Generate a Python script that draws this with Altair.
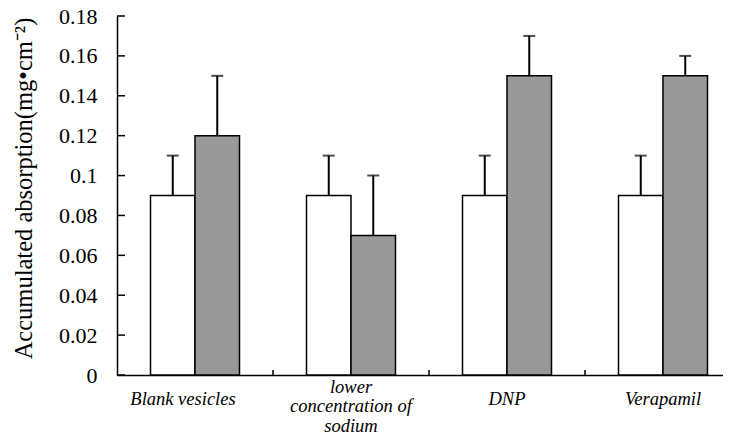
import altair as alt
import pandas as pd

categories = ["Blank vesicles", "lower concentration of sodium", "DNP", "Verapamil"]
series = ["Control", "Treatment"]
control_values = [0.09, 0.09, 0.09, 0.09]
control_errors = [0.02, 0.02, 0.02, 0.02]
treated_values = [0.12, 0.07, 0.15, 0.15]
treated_errors = [0.03, 0.03, 0.02, 0.01]
y_ticks = [0, 0.02, 0.04, 0.06, 0.08, 0.1, 0.12, 0.14, 0.16, 0.18]

rows = []
for i, c in enumerate(categories):
    rows.append({"cat": c, "series": series[0], "value": control_values[i],
                 "top": control_values[i] + control_errors[i]})
    rows.append({"cat": c, "series": series[1], "value": treated_values[i],
                 "top": treated_values[i] + treated_errors[i]})
df = pd.DataFrame(rows)
tick_df = pd.DataFrame({"tick": y_ticks})
bound_df = pd.DataFrame({"cat": categories[1:]})

FONT = "Liberation Serif"
H = 359
MULTI = "datum.value == 'lower concentration of sodium'"

xscale = alt.Scale(domain=categories, range=[0, 624], paddingInner=0, paddingOuter=0)
xaxis = alt.Axis(
    title=None, ticks=False, domainColor="black", domainWidth=1.5,
    labelFont=FONT, labelFontSize=18.5, labelFontStyle="italic", labelColor="black",
    labelAngle=0, labelBaseline="middle", labelLineHeight=19.5,
    labelPadding={"condition": {"test": MULTI, "value": 11}, "value": 23},
    labelOffset={"condition": {"test": "datum.value == 'Blank vesicles'", "value": -12}, "value": 0},
    labelLimit=0, labelOverlap=False,
    labelExpr=MULTI + " ? ['lower', 'concentration of', 'sodium'] : datum.value",
)
yscale = alt.Scale(domain=[0, 0.18], nice=False, zero=True)
yaxis = alt.Axis(
    title="Accumulated absorption(mg•cm⁻²)", values=y_ticks, format=".2~f",
    ticks=False, grid=False, domainColor="black", domainWidth=1.5,
    labelFont=FONT, labelFontSize=22, labelColor="black", labelPadding=20,
    titleFont=FONT, titleFontSize=24.5, titleFontWeight="normal", titleColor="black",
    titlePadding=22, titleY=172,
)
offscale = alt.Scale(domain=series, paddingInner=0, paddingOuter=0.753)

X = alt.X("cat:N", scale=xscale, axis=xaxis, sort=categories)
XO = alt.XOffset("series:N", scale=offscale, sort=series)

base = alt.Chart(df)

bars = base.mark_bar(stroke="black", strokeWidth=1.5).encode(
    x=X, xOffset=XO,
    y=alt.Y("value:Q", scale=yscale, axis=yaxis),
    fill=alt.Fill("series:N", scale=alt.Scale(domain=series, range=["#ffffff", "#999999"]), legend=None),
)
err = base.mark_rule(color="black", strokeWidth=2).encode(
    x=X, xOffset=XO,
    y=alt.Y("value:Q", scale=yscale, axis=yaxis),
    y2="top:Q",
)
caps = base.mark_tick(color="black", size=12, thickness=2, orient="horizontal").encode(
    x=X, xOffset=XO,
    y=alt.Y("top:Q", scale=yscale, axis=yaxis),
)
yticks = alt.Chart(tick_df).mark_rule(color="black", strokeWidth=1.5).encode(
    y=alt.Y("tick:Q", scale=yscale, axis=yaxis),
    x=alt.value(0), x2=alt.value(8),
)
xticks = alt.Chart(bound_df).mark_rule(color="black", strokeWidth=1.5).encode(
    x=alt.X("cat:N", scale=xscale, axis=xaxis, sort=categories, bandPosition=0),
    y=alt.value(H), y2=alt.value(H - 5),
)

chart = alt.layer(bars, err, caps, yticks, xticks).properties(
    width=606, height=H,
    autosize=alt.AutoSizeParams(type="none"),
    padding={"left": 109, "top": 8, "right": 0, "bottom": 59},
    background="white",
).configure_view(stroke=None)

chart.save("out.html", embed_options={"renderer": "svg", "actions": False})
